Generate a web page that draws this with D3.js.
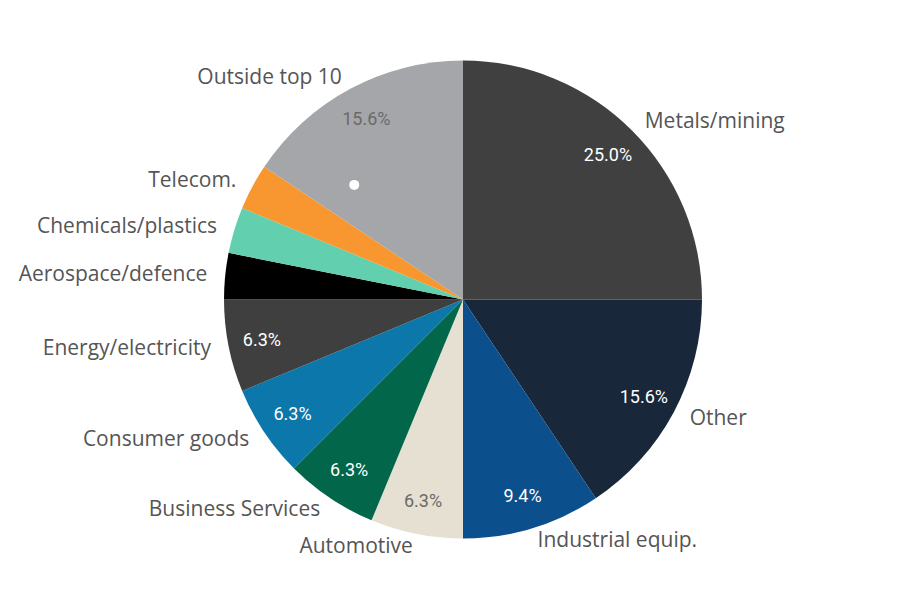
<!DOCTYPE html>
<html>
<head>
<meta charset="utf-8">
<script src="https://cdn.jsdelivr.net/npm/d3@7/dist/d3.min.js"></script>
<style>
  html, body { margin: 0; padding: 0; background: #ffffff; }
  svg { display: block; }
</style>
</head>
<body>
<div id="chart"></div>
<script>
// Sector breakdown (share of 32 deals), clockwise from 12 o'clock
const sectors = [
  "Metals/mining", "Other", "Industrial equip.", "Automotive",
  "Business Services", "Consumer goods", "Energy/electricity",
  "Aerospace/defence", "Chemicals/plastics", "Telecom.", "Outside top 10"
];
const counts = [8, 5, 3, 2, 2, 2, 2, 1, 1, 1, 5];
const colors = [
  "#404040", "#182739", "#0b4f8d", "#e5e0d1",
  "#02674a", "#0b77aa", "#3f3f3f",
  "#000000", "#62cfae", "#f8972f", "#a5a6aa"
];
// slices with light fills get dark value labels
const lightFill = ["Automotive", "Outside top 10"];

const width = 904, height = 591;
const cx = 463, cy = 299.5, radius = 239;

const svg = d3.select("#chart").append("svg")
  .attr("width", width).attr("height", height);

const g = svg.append("g").attr("transform", `translate(${cx},${cy})`);

const data = sectors.map((s, i) => ({ sector: s, count: counts[i], color: colors[i] }));
const total = d3.sum(counts);

const pie = d3.pie().value(d => d.count).sort(null);
const arcs = pie(data);

const arc = d3.arc().innerRadius(0).outerRadius(radius);
const valueArc = d3.arc().innerRadius(205).outerRadius(205);
// name labels sit on a slightly flattened ring outside the rim
const nameRx = 257, nameRy = 252;
const midAngle = d => (d.startAngle + d.endAngle) / 2;

g.selectAll("path.slice")
  .data(arcs)
  .join("path")
  .attr("class", "slice")
  .attr("d", arc)
  .attr("fill", d => d.data.color);

// percentage labels inside the larger slices
g.selectAll("text.value")
  .data(arcs.filter(d => d.data.count / total > 0.05))
  .join("text")
  .attr("class", "value")
  .attr("transform", d => `translate(${valueArc.centroid(d)})`)
  .attr("text-anchor", "middle")
  .attr("dominant-baseline", "central")
  .attr("font-family", "Roboto, sans-serif")
  .attr("font-size", 18)
  .attr("fill", d => lightFill.includes(d.data.sector) ? "#6a6a6a" : "#ffffff")
  .text(d => d3.format(".1%")(d.data.count / total));

// sector names around the rim
g.selectAll("text.name")
  .data(arcs)
  .join("text")
  .attr("class", "name")
  .attr("x", d => nameRx * Math.sin(midAngle(d)))
  .attr("y", d => -nameRy * Math.cos(midAngle(d)) - 1.5)
  .attr("text-anchor", d => (midAngle(d) < Math.PI ? "start" : "end"))
  .attr("dominant-baseline", "central")
  .attr("font-family", "'Open Sans', sans-serif")
  .attr("font-size", 21)
  .attr("fill", "#555555")
  .text(d => d.data.sector);

// hover marker
const markerAngle = 316.5 * Math.PI / 180, markerR = 158;
g.append("circle")
  .attr("cx", markerR * Math.sin(markerAngle))
  .attr("cy", -markerR * Math.cos(markerAngle))
  .attr("r", 5)
  .attr("fill", "#ffffff");
</script>
</body>
</html>
